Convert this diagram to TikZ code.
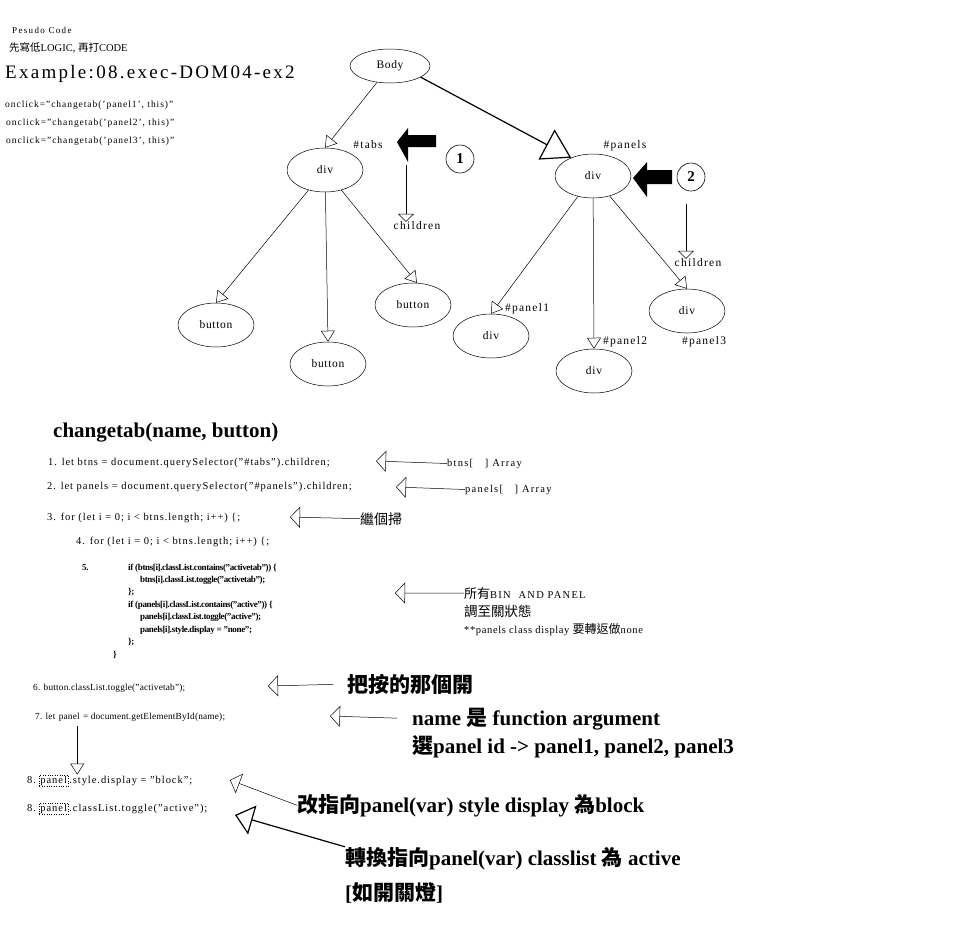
\documentclass[tikz,border=0pt]{standalone}
\usepackage{fontspec}
\setmainfont{Liberation Serif}
\newfontfamily\cjk{Noto Sans CJK TC}
\usepackage{tikz}
\usetikzlibrary{arrows.meta,positioning,shapes.geometric}

\newcommand{\zh}[1]{{\cjk #1}}
\newcommand{\fs}[1]{\fontsize{#1}{#1}\selectfont}
\newcommand{\ls}[1]{\addfontfeatures{LetterSpace=#1}}

\tikzset{
  elem/.style={draw, ellipse, minimum width=76pt, minimum height=44pt, inner sep=0pt, line width=0.5pt, font=\fs{11.5}\ls{6}},
  link/.style={-{Triangle[open,length=11pt,width=14pt]}, line width=0.5pt},
  childlink/.style={-{Triangle[open,length=8pt,width=16pt]}, line width=0.5pt},
  note/.style={-{Triangle[open,length=10pt,width=21pt]}, line width=0.5pt},
  tag/.style={inner sep=0pt, font=\fs{11.5}\ls{11}},
  txt/.style={anchor=base west, inner sep=0pt},
  code/.style={txt, font=\fs{10.5}\ls{9}},
  small/.style={txt, font=\fs{9.3}\ls{2}},
  bold/.style={txt, font=\fs{9}\bfseries\ls{-4}},
  hint/.style={txt, font=\fs{10.5}\ls{12}},
  big/.style={txt, font=\fs{21}\bfseries},
  num/.style={draw, circle, minimum size=28pt, inner sep=0pt, line width=0.6pt, font=\fs{15}\bfseries},
}

\begin{document}
\begin{tikzpicture}[x=1pt,y=-1pt]
\useasboundingbox (0,0) rectangle (960,927);

% heading
\node[txt, font=\fs{9}\ls{15}] (pcode) at (12,33) {Pesudo Code};
\node[txt, font=\fs{10.5}] (logic) at (9,51) {\zh{先寫低}LOGIC, \zh{再打}CODE};
\node[txt, font=\fs{19}\ls{12}] (title) at (5,78) {Example:08.exec-DOM04-ex2};
\node[txt, font=\fs{9.5}\ls{10}] (click1) at (5,107) {onclick="changetab('panel1', this)"};
\node[txt, font=\fs{9.5}\ls{10}] (click2) at (6,125) {onclick="changetab('panel2', this)"};
\node[txt, font=\fs{9.5}\ls{10}] (click3) at (6,143) {onclick="changetab('panel3', this)"};

% DOM tree
\node[elem, minimum width=80pt, minimum height=34pt] (body) at (390,66) {Body};
\node[elem] (tdiv) at (325,170) {div};
\node[elem] (pdiv) at (593,176) {div};
\node[elem] (btna) at (216,325) {button};
\node[elem] (btnb) at (328,364) {button};
\node[elem] (btnc) at (413,305) {button};
\node[elem] (pa) at (491,336) {div};
\node[elem] (pb) at (594,371) {div};
\node[elem] (pc) at (687,311) {div};

\node[tag] (tabs) at (368,145) {\#tabs};
\node[tag] (panels) at (625,146) {\#panels};
\node[tag] (pa1) at (527,309) {\#panel1};
\node[tag] (pb2) at (625,342) {\#panel2};
\node[tag] (pc3) at (704,342) {\#panel3};

\draw[link] (body) -- (tdiv.north);
\draw[-{Triangle[open,length=28pt,width=34pt]}, line width=1.2pt] (body.-20) -- (pdiv.140);
\draw[link] (tdiv) -- (btna.north);
\draw[link] (tdiv) -- (btnb.north);
\draw[link] (tdiv) -- (btnc.80);
\draw[link] (pdiv) -- (pa.north);
\draw[link] (pdiv) -- (pb.north);
\draw[link] (pdiv) -- (pc.north);

% pointers 1 and 2
\fill (436,135) -- (408,135) -- (408,128) -- (397,142) -- (408,162) -- (408,147) -- (436,147) -- cycle;
\fill (672,170) -- (647,170) -- (647,162) -- (633,178) -- (647,197) -- (647,184) -- (672,184) -- cycle;
\node[num] (one) at (460,159) {1};
\node[num] (two) at (691,177) {2};

\coordinate (cl) at (406,165);
\node[tag] (chl) at (417,226) {children};
\draw[childlink] (cl) -- (cl |- chl.north);
\coordinate (cr) at (686,204);
\node[tag] (chr) at (698,263) {children};
\draw[childlink] (cr) -- (cr |- chr.north);

% pseudo code
\node[big] (func) at (53,437) {changetab(name, button)};
\node[code] (l1) at (48,465) {1. let btns = document.querySelector("\#tabs").children;};
\node[code] (l2) at (47,489) {2. let panels = document.querySelector("\#panels").children;};
\node[code] (l3) at (47,520) {3. for (let i = 0; i < btns.length; i++) \{;};
\node[code] (l4) at (76,544) {4. for (let i = 0; i < btns.length; i++) \{;};
\node[bold] (l5) at (82,570) {5.};
\node[bold] (l5a) at (128,570) {if (btns[i].classList.contains("activetab")) \{};
\node[bold] (l5b) at (140,582) {btns[i].classList.toggle("activetab");};
\node[bold] (l5c) at (128,594) {\};};
\node[bold] (l5d) at (128,607) {if (panels[i].classList.contains("active")) \{};
\node[bold] (l5e) at (140,619) {panels[i].classList.toggle("active");};
\node[bold] (l5f) at (140,632) {panels[i].style.display = "none";};
\node[bold] (l5g) at (128,644) {\};};
\node[bold] (l5h) at (113,657) {\}};
\node[small] (l6) at (33,690) {6. button.classList.toggle("activetab");};
\node[small] (l7a) at (35,719) {7. let};
\node[small] (l7p) at ([xshift=3pt]l7a.base east) {panel};
\node[small] (l7b) at ([xshift=3pt]l7p.base east) {= document.getElementById(name);};
\node[code] (l8a) at (27,783) {8.};
\node[code, draw, dotted, inner sep=1pt] (p8a) at ([xshift=3pt]l8a.base east) {panel};
\node[code] (l8ar) at ([xshift=1pt]p8a.base east) {.style.display = "block";};
\node[code] (l8b) at (27,811) {8.};
\node[code, draw, dotted, inner sep=1pt] (p8b) at ([xshift=3pt]l8b.base east) {panel};
\node[code] (l8br) at ([xshift=1pt]p8b.base east) {.classList.toggle("active");};
\coordinate (drop) at ([xshift=8pt, yshift=-5pt]l7p.south);
\draw[link] (drop) -- (drop |- p8a.north);

% notes
\node[hint] (n1) at (447,466) {btns[\ \ \ ] Array};
\coordinate (t1) at (376,461);
\draw[note] (n1.west) -- (t1);
\node[hint] (n2) at (465,492) {panels[\ \ \ ] Array};
\coordinate (t2) at (396,487);
\draw[note] (n2.west) -- (t2);
\node[txt, font=\fs{14}\cjk] (n3) at (360,524) {繼個掃};
\coordinate (t3) at (290,517);
\draw[note] (n3.west) -- (t3);
\node[hint] (n5) at (464,598) {{\cjk\fs{13}所有}BIN\ \ AND PANEL};
\node[txt, font=\fs{13.5}\cjk] (n5b) at (464,616) {調至關狀態};
\node[hint, font=\fs{10.5}\ls{6}] (n5c) at (464,633) {**panels class display {\cjk\fs{12}要轉返做}none};
\coordinate (t5) at (395,593);
\draw[note] (n5.west) -- (t5);
\node[big, font=\fs{21}\cjk\bfseries] (n6) at (347,692) {把按的那個開};
\coordinate (t6) at (268,686);
\draw[note, shorten <=14pt] (n6.west) -- (t6);
\node[big] (n7) at (412,725) {name \zh{是} function argument};
\node[big] (n7b) at (412,753) {\zh{選}panel id -> panel1, panel2, panel3};
\coordinate (t7) at (330,716);
\draw[note, shorten <=15pt] (n7.west) -- (t7);
\node[big] (n8) at (297,812) {\zh{改指向}panel(var) style display \zh{為}block};
\coordinate (t8) at (230,780);
\draw[note] (n8.west) -- (t8);
\node[big] (n9) at (345,865) {\zh{轉換指向}panel(var) classlist \zh{為} active};
\node[big] (n9b) at (345,900) {[\zh{如開關燈}]};
\coordinate (t9) at (235,815);
\draw[-{Triangle[open,length=18pt,width=30pt]}, line width=1.2pt] (n9.north west) -- (t9);
\end{tikzpicture}
\end{document}
